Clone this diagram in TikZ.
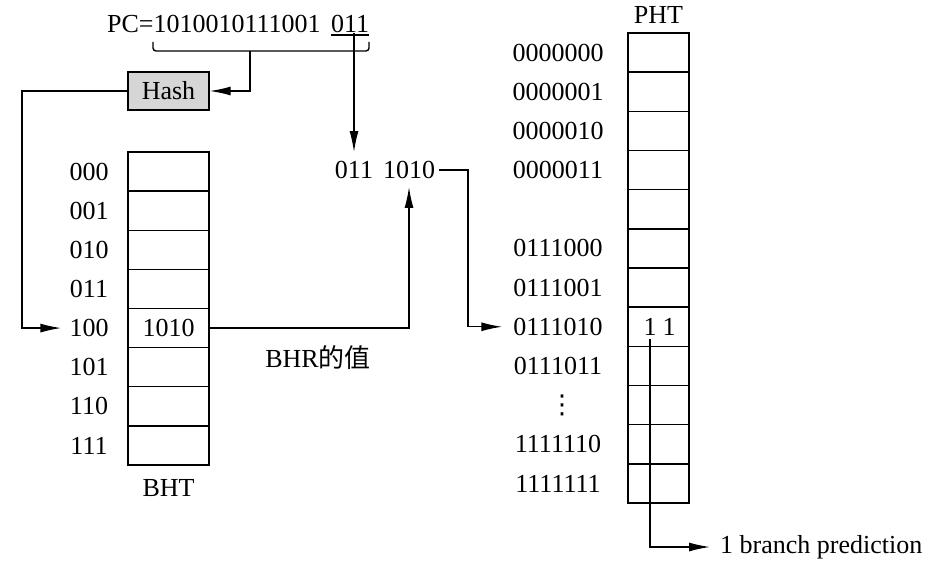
\documentclass[tikz,border=0pt]{standalone}
\usepackage{fontspec}
\setmainfont{Liberation Serif}
\newfontfamily\cjk{Noto Sans CJK SC}
\newfontfamily\sym{DejaVu Sans}
\usetikzlibrary{arrows.meta}
\begin{document}
\begin{tikzpicture}[x=1pt,y=-1pt,
  every node/.style={font=\fontsize{26}{30}\selectfont, inner sep=0pt},
  line/.style={line width=1.4pt},
  arr/.style={line, -{Latex[length=21pt,width=9pt]}},
  bhtcell/.style={draw, line width=1.4pt, minimum width=81pt, minimum height=39.125pt},
  phtcell/.style={draw, line width=1.4pt, minimum width=61pt, minimum height=39.17pt},
  hashbox/.style={draw, line width=1.4pt, fill=black!16, minimum width=81pt, minimum height=38pt},
]
\fill[white] (0,0) rectangle (939,572);
\useasboundingbox (0,0) rectangle (939,572);

% program counter and the selected low bits
\node[anchor=base west] (pc) at (107,33) {PC=1010010111001};
\node[anchor=base west] (pcl) at (331,33) {011};
\draw[line] ([yshift=-2pt]pcl.base west) -- ([yshift=-2pt]pcl.base east);

% bracket over the PC bits feeding the hash
\draw[line, rounded corners=3pt] (153,42) -- (153,51) -- (369,51) -- (369,42);
\coordinate (bk) at (250,51);

% hash unit
\node[hashbox] (hash) at (168.5,91) {Hash};
\draw[arr] (bk) |- (hash.east);

% branch history table
\foreach \i in {0,...,7}
  \node[bhtcell] (b\i) at (168.5,{152+39.125*(\i+0.5)}) {};
\foreach \t [count=\i from 0] in {000,001,010,011,100,101,110,111}
  \node (lb\i) at (89,{152+39.125*(\i+0.5)}) {\t};
\node (bval) at (b4) {1010};
\node (bht) at (168.5,488) {BHT};

% hash output selects a BHT entry
\coordinate (hk) at (22,91);
\draw[arr, shorten >=8pt] (hash.west) -- (hk) |- (lb4.west);

% concatenated PHT index
\node (hi) at (354,170) {011};
\node (lo) at (409,170) {1010};
\draw[arr, shorten >=9pt] (hi.north |- pcl.base) -- (hi.north);
\draw[arr, shorten >=8pt] (b4.east) -| (lo.south);
\node (bhr) at (318,358) {BHR{\cjk 的值}};

% pattern history table
\foreach \i in {0,...,11}
  \node[phtcell] (p\i) at (658.5,{33+39.17*(\i+0.5)}) {};
\foreach \t [count=\i from 0] in {0000000,0000001,0000010,0000011,{},0111000,0111001,0111010,0111011,{},1111110,1111111}
  \node (lp\i) at (558,{33+39.17*(\i+0.5)}) {\t};
\node (dots) at (562,{33+39.17*9.5}) {\sym ⋮};
\node (pht) at (658.5,15) {PHT};
\node (c1) at (650,{33+39.17*7.5}) {1};
\node (c2) at (669,{33+39.17*7.5}) {1};

% index into the PHT
\coordinate (j1) at (468,170);
\draw[arr, shorten <=4pt, shorten >=11pt] (lo.east) -- (j1) |- (lp7.west);

% prediction output
\node[anchor=west] (outp) at (720,547) {1 branch prediction};
\draw[arr, shorten <=3pt, shorten >=10pt] (c1.south) |- (outp.west);
\end{tikzpicture}
\end{document}
